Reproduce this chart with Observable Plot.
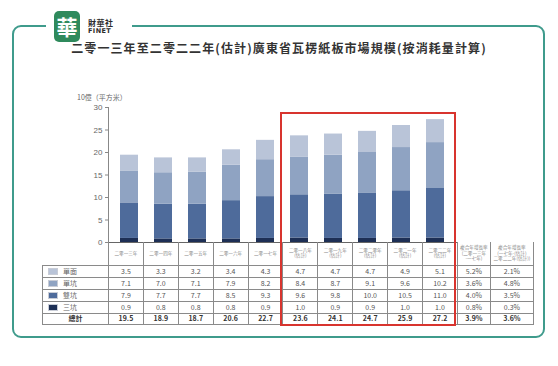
<!DOCTYPE html>
<html><head><meta charset="utf-8">
<script src="https://cdn.jsdelivr.net/npm/d3@7"></script>
<script src="https://cdn.jsdelivr.net/npm/@observablehq/plot@0.6"></script>
<style>
body{margin:0;background:#fff;font-family:"Noto Sans CJK TC","Noto Sans",sans-serif;}
#wrap{position:relative;width:558px;height:366px;overflow:hidden;background:#fff;}
#frame{position:absolute;left:12px;top:25px;width:529px;height:309px;border:2px solid #3f9b8c;border-radius:9px;box-sizing:content-box;}
#logoGap{position:absolute;left:46px;top:20px;width:86px;height:12px;background:#fff;}
#logo{position:absolute;left:54px;top:11px;width:26px;height:31px;background:#2f8a5c;border-radius:5px;color:#fff;font-size:21px;line-height:31px;text-align:center;font-weight:bold;}
#brand{position:absolute;left:88px;top:18px;color:#2c2c2c;font-weight:bold;}
#brand .a{font-size:8px;line-height:9px;letter-spacing:0.5px;}
#brand .b{font-size:6.5px;line-height:8px;font-family:"DejaVu Sans",sans-serif;letter-spacing:0.4px;}
#title{position:absolute;left:0;top:39px;width:558px;text-align:center;font-size:12px;letter-spacing:1.1px;color:#333;font-weight:bold;}
#ylab{position:absolute;left:77px;top:92px;font-size:7px;color:#666;}
#chart{position:absolute;left:0;top:0;}
#tbl{position:absolute;left:42px;top:242px;border-collapse:collapse;table-layout:fixed;font-size:7px;color:#555;}
#tbl td{border:1px solid #8a8a8a;padding:0;text-align:center;white-space:nowrap;overflow:hidden;line-height:9px;box-sizing:border-box;}
#tbl td.hd{font-size:4.6px;line-height:5.2px;color:#888;white-space:normal;}
#tbl tr.total td{font-weight:bold;color:#333;}
#tbl td.leg{text-align:left;padding-left:5px;color:#666;}
.sw{display:inline-block;width:10px;height:7px;margin-right:5px;vertical-align:-1px;border:1px solid #c8ccd6;box-sizing:border-box;}
#red{position:absolute;left:280px;top:112px;width:172px;height:210px;border:2px solid #d8342e;}
</style></head>
<body><div id="wrap">
<div id="frame"></div>
<div id="logoGap"></div>
<div id="logo">華</div>
<div id="brand"><div class="a">財華社</div><div class="b">FINET</div></div>
<div id="title"></div>
<div id="chart"></div>
<div id="ylab"></div>
<table id="tbl"></table>
<div id="red"></div>
</div>
<script>
const titleText = "二零一三年至二零二二年(估計)廣東省瓦楞紙板市場規模(按消耗量計算)";
const yLabel = "10億（平方米）";
const years = ["二零一三年","二零一四年","二零一五年","二零一六年","二零一七年","二零一八年(估計)","二零一九年(估計)","二零二零年(估計)","二零二一年(估計)","二零二二年(估計)"];
const yearHeaders = [["二零一三年"],["二零一四年"],["二零一五年"],["二零一六年"],["二零一七年"],["二零一八年","(估計)"],["二零一九年","(估計)"],["二零二零年","(估計)"],["二零二一年","(估計)"],["二零二二年","(估計)"]];
const seriesNames = ["單面","單坑","雙坑","三坑"];
const seriesColors = ["#b9c4d8","#8fa3c2","#4e6b9b","#1d2f55"];
const singleFace = [3.5,3.3,3.2,3.4,4.3,4.7,4.7,4.7,4.9,5.1];
const singleWall = [7.1,7.0,7.1,7.9,8.2,8.4,8.7,9.1,9.6,10.2];
const doubleWall = [7.9,7.7,7.7,8.5,9.3,9.6,9.8,10.0,10.5,11.0];
const tripleWall = [0.9,0.8,0.8,0.8,0.9,1.0,0.9,0.9,1.0,1.0];
const totalLabel = "總計";
const totals = [19.5,18.9,18.7,20.6,22.7,23.6,24.1,24.7,25.9,27.2];
const cagrHeaders = [["複合年增長率","(二零一三年","-一七年)"],["複合年增長率","(一七年-(估計)","二零二二年(估計))"]];
const cagr1 = ["5.2%","3.6%","4.0%","0.8%","3.9%"];
const cagr2 = ["2.1%","4.8%","3.5%","0.3%","3.6%"];
const yTicks = [0,5,10,15,20,25,30];

document.getElementById("title").textContent = titleText;
document.getElementById("ylab").textContent = yLabel;

const seriesVals = [singleFace, singleWall, doubleWall, tripleWall];
const rows = [];
[3,2,1,0].forEach(si => {
  years.forEach((yr, i) => rows.push({year: yr, series: seriesNames[si], value: seriesVals[si][i]}));
});

const mL = 108, mR = 101;
const plot = Plot.plot({
  width: 558, height: 250,
  marginLeft: mL, marginRight: mR, marginTop: 107, marginBottom: 8,
  style: {background: "transparent", fontFamily: "Liberation Sans, Arial, sans-serif"},
  x: {domain: years, paddingInner: 0.46, paddingOuter: 0.23, axis: null},
  y: {domain: [0, 30], axis: null},
  color: {domain: seriesNames, range: seriesColors},
  marks: [
    Plot.barY(rows, {x: "year", y: "value", fill: "series", order: seriesNames.slice().reverse()}),
    Plot.axisY({ticks: yTicks, tickSize: 3, tickPadding: 3, fontSize: 8, color: "#666", stroke: "#888", label: null}),
    Plot.frame({anchor: "left", stroke: "#888"}),
    Plot.ruleY([0], {stroke: "#666"})
  ]
});
document.getElementById("chart").appendChild(plot);

const xs = plot.scale("x");
const step = (xs.range[1] - xs.range[0]) / years.length;
const tbl = document.getElementById("tbl");
const colW = [mL - 42, ...years.map(() => step), 33, 43];
const cg = document.createElement("colgroup");
colW.forEach(w => { const c = document.createElement("col"); c.style.width = w + "px"; cg.appendChild(c); });
tbl.appendChild(cg);
tbl.style.width = d3.sum(colW) + "px";

function addRow(cells, h, cls) {
  const tr = document.createElement("tr");
  if (cls) tr.className = cls;
  tr.style.height = h + "px";
  cells.forEach(c => { c.style.height = h + "px"; tr.appendChild(c); });
  tbl.appendChild(tr);
}
function td(html, cls) { const t = document.createElement("td"); t.innerHTML = html; if (cls) t.className = cls; return t; }

const hdr = [td("", "")];
hdr[0].style.border = "none";
hdr[0].style.borderRight = "1px solid #8a8a8a";
yearHeaders.forEach(h => hdr.push(td(h.join("<br>"), "hd")));
cagrHeaders.forEach(h => hdr.push(td(h.join("<br>"), "hd")));
hdr.forEach(c => c.style.borderTop = "none");
addRow(hdr, 23);

const cagrs = [cagr1, cagr2];
seriesNames.forEach((nm, si) => {
  const cells = [td(`<span class="sw" style="background:${seriesColors[si]}"></span>${nm}`, "leg")];
  seriesVals[si].forEach(v => cells.push(td(v.toFixed(1))));
  cagrs.forEach(c => cells.push(td(c[si])));
  addRow(cells, 12);
});
const tot = [td(totalLabel)];
totals.forEach(v => tot.push(td(v.toFixed(1))));
cagrs.forEach(c => tot.push(td(c[4])));
addRow(tot, 11, "total");
</script>
</body></html>
